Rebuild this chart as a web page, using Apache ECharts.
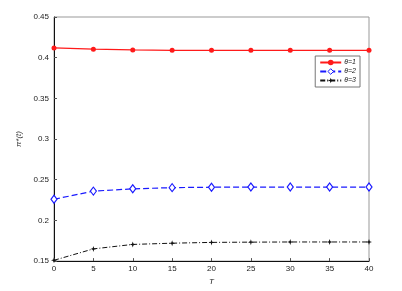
<!DOCTYPE html>
<html><head><meta charset="utf-8">
<script src="https://cdn.jsdelivr.net/npm/echarts@6/dist/echarts.min.js"></script>
<style>html,body{margin:0;padding:0;background:#fff}#c{width:402px;height:291px}</style>
</head><body><div id="c"></div>
<script>
const categories = [0, 5, 10, 15, 20, 25, 30, 35, 40];
const theta1 = [0.412, 0.4105, 0.4095, 0.409, 0.409, 0.409, 0.409, 0.409, 0.409];
const theta2 = [0.226, 0.236, 0.2388, 0.2403, 0.2408, 0.241, 0.241, 0.241, 0.241];
const theta3 = [0.151, 0.165, 0.1705, 0.172, 0.173, 0.1733, 0.1735, 0.1735, 0.1735];
const names = ['θ=1', 'θ=2', 'θ=3'];

const chart = echarts.init(document.getElementById('c'));
const font = 'Liberation Sans';
const pair = (arr) => arr.map((v, i) => [categories[i], v]);
const starPath = 'path://M0,-5L1.2,-1.2L5,0L1.2,1.2L0,5L-1.2,1.2L-5,0L-1.2,-1.2Z';
chart.setOption({
  animation: false,
  grid: { left: 54, top: 17, right: 33, bottom: 27, show: true, borderColor: '#999', borderWidth: 1 },
  xAxis: {
    type: 'value', min: 0, max: 40, interval: 5,
    name: 'T', nameLocation: 'middle', nameGap: 13,
    nameTextStyle: { fontFamily: font, fontSize: 8, fontStyle: 'italic', color: '#222' },
    axisLine: { lineStyle: { color: '#111', width: 1 } },
    axisTick: { inside: true, length: 3, lineStyle: { color: '#555' } },
    axisLabel: { fontFamily: font, fontSize: 8, color: '#222', margin: 4 },
    splitLine: { show: false }
  },
  yAxis: {
    type: 'value', min: 0.15, max: 0.45, interval: 0.05,
    name: 'π*(t)', nameLocation: 'middle', nameGap: 23, nameRotate: 90,
    nameTextStyle: { fontFamily: font, fontSize: 8, fontStyle: 'italic', color: '#333' },
    axisLine: { lineStyle: { color: '#111', width: 1 } },
    axisTick: { inside: true, length: 3, lineStyle: { color: '#555' } },
    axisLabel: { fontFamily: font, fontSize: 8, color: '#222', margin: 5 },
    splitLine: { show: false }
  },
  legend: {
    right: 42, top: 56, orient: 'vertical',
    itemWidth: 21, itemHeight: 7, itemGap: 2,
    padding: [3, 4, 3, 4],
    backgroundColor: '#fff', borderColor: '#777', borderWidth: 1,
    textStyle: { fontFamily: font, fontSize: 7, fontStyle: 'italic', color: '#222', padding: [0, 0, 0, -2] },
    data: [
      { name: names[0] },
      { name: names[1], itemStyle: { color: '#fff', borderColor: '#1a1aff', borderWidth: 1 } },
      { name: names[2] }
    ]
  },
  series: [
    { name: names[0], type: 'line', data: pair(theta1), symbol: 'circle', symbolSize: 5,
      lineStyle: { color: '#ff1a1a', width: 1.2 }, itemStyle: { color: '#ff1a1a' } },
    { name: names[1], type: 'line', data: pair(theta2), symbol: 'diamond', symbolSize: [6, 8],
      lineStyle: { color: '#1a1aff', width: 1.2, type: [6, 3] },
      itemStyle: { color: '#fff', borderColor: '#1a1aff', borderWidth: 1.2 } },
    { name: names[2], type: 'line', data: pair(theta3), symbol: starPath, symbolSize: 6,
      lineStyle: { color: '#111', width: 1, type: [5, 2, 1, 2] },
      itemStyle: { color: '#111' } }
  ]
});
</script></body></html>
